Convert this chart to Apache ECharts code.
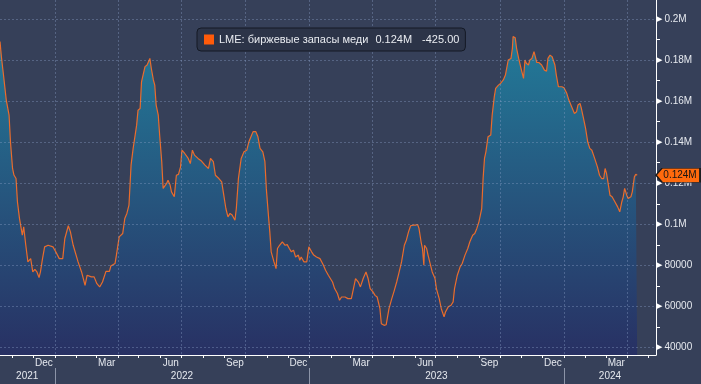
<!DOCTYPE html>
<html><head><meta charset="utf-8">
<script src="https://cdn.jsdelivr.net/npm/echarts@6/dist/echarts.min.js"></script>
<style>html,body{margin:0;padding:0;background:#364059;}#c{width:701px;height:384px;}</style>
</head><body><div id="c"></div>
<script>
const seriesName = 'LME: биржевые запасы меди';
const dates = [
'2021-10-14','2021-10-16','2021-10-19','2021-10-23','2021-10-27','2021-10-29','2021-11-01','2021-11-03','2021-11-06','2021-11-08',
'2021-11-11','2021-11-15','2021-11-17','2021-11-20','2021-11-23','2021-11-27','2021-11-30','2021-12-03','2021-12-06','2021-12-09',
'2021-12-11','2021-12-14','2021-12-17','2021-12-22','2021-12-29','2022-01-02','2022-01-07','2022-01-12','2022-01-15','2022-01-20',
'2022-01-23','2022-01-27','2022-02-03','2022-02-08','2022-02-13','2022-02-16','2022-02-22','2022-02-26','2022-03-02','2022-03-06',
'2022-03-10','2022-03-15','2022-03-20','2022-03-22','2022-03-28','2022-03-30','2022-04-03','2022-04-08','2022-04-11','2022-04-14',
'2022-04-17','2022-04-20','2022-04-23','2022-04-25','2022-04-28','2022-04-30','2022-05-03','2022-05-05','2022-05-07','2022-05-10',
'2022-05-13','2022-05-15','2022-05-17','2022-05-19','2022-05-22','2022-05-24','2022-05-26','2022-05-29','2022-05-31','2022-06-03',
'2022-06-05','2022-06-07','2022-06-10','2022-06-12','2022-06-15','2022-06-17','2022-06-21','2022-06-24','2022-06-27','2022-06-30',
'2022-07-02','2022-07-06','2022-07-11','2022-07-14','2022-07-17','2022-07-20','2022-07-25','2022-07-30','2022-08-04','2022-08-09',
'2022-08-12','2022-08-16','2022-08-19','2022-08-24','2022-08-28','2022-08-31','2022-09-03','2022-09-06','2022-09-09','2022-09-12',
'2022-09-16','2022-09-18','2022-09-21','2022-09-25','2022-09-29','2022-10-03','2022-10-06','2022-10-10','2022-10-12','2022-10-16',
'2022-10-19','2022-10-22','2022-10-26','2022-10-29','2022-10-31','2022-11-03','2022-11-05','2022-11-07','2022-11-11','2022-11-14',
'2022-11-16','2022-11-19','2022-11-23','2022-11-27','2022-11-30','2022-12-03','2022-12-06','2022-12-09','2022-12-12','2022-12-16',
'2022-12-18','2022-12-20','2022-12-24','2022-12-28','2022-12-31','2023-01-04','2023-01-07','2023-01-11','2023-01-16','2023-01-21',
'2023-01-24','2023-01-28','2023-01-30','2023-02-03','2023-02-06','2023-02-10','2023-02-13','2023-02-16','2023-02-21','2023-02-25',
'2023-03-02','2023-03-06','2023-03-08','2023-03-12','2023-03-15','2023-03-19','2023-03-23','2023-03-26','2023-03-29','2023-04-02',
'2023-04-05','2023-04-08','2023-04-12','2023-04-14','2023-04-18','2023-04-21','2023-04-25','2023-04-29','2023-05-02','2023-05-06',
'2023-05-09','2023-05-13','2023-05-17','2023-05-20','2023-05-23','2023-05-26','2023-05-30','2023-06-02','2023-06-05','2023-06-07',
'2023-06-10','2023-06-12','2023-06-14','2023-06-15','2023-06-18','2023-06-20','2023-06-23','2023-06-26','2023-06-30','2023-07-02',
'2023-07-06','2023-07-09','2023-07-13','2023-07-15','2023-07-19','2023-07-23','2023-07-26','2023-07-28','2023-08-01','2023-08-05',
'2023-08-08','2023-08-12','2023-08-16','2023-08-19','2023-08-23','2023-08-26','2023-08-29','2023-09-01','2023-09-05','2023-09-07',
'2023-09-09','2023-09-11','2023-09-14','2023-09-18','2023-09-20','2023-09-23','2023-09-25','2023-09-29','2023-10-02','2023-10-06',
'2023-10-09','2023-10-13','2023-10-17','2023-10-19','2023-10-20','2023-10-23','2023-10-25','2023-10-28','2023-11-01','2023-11-04',
'2023-11-06','2023-11-08','2023-11-11','2023-11-13','2023-11-16','2023-11-19','2023-11-23','2023-11-26','2023-11-30','2023-12-04',
'2023-12-07','2023-12-09','2023-12-12','2023-12-15','2023-12-19','2023-12-21','2023-12-24','2023-12-26','2023-12-29','2024-01-01',
'2024-01-05','2024-01-08','2024-01-12','2024-01-16','2024-01-19','2024-01-21','2024-01-24','2024-01-26','2024-01-29','2024-02-01',
'2024-02-04','2024-02-07','2024-02-10','2024-02-14','2024-02-18','2024-02-21','2024-02-24','2024-02-27','2024-02-29','2024-03-02',
'2024-03-04','2024-03-07','2024-03-10','2024-03-14','2024-03-18','2024-03-21','2024-03-24','2024-03-26','2024-03-28','2024-03-31',
'2024-04-02','2024-04-06','2024-04-08','2024-04-11','2024-04-13','2024-04-15'
];
const stocks = [
189000,181600,172700,160500,153200,140200,127200,124000,122300,111000,
102800,94700,98800,89800,81700,83300,76800,78100,76800,74100,
76800,83300,89000,89800,89000,86600,83300,83300,93100,99300,
96300,89800,81700,76800,70300,75200,74400,74400,71100,69500,
71900,77100,77100,79700,80900,85000,93900,95500,102800,105300,
109300,128800,137000,137700,148300,155600,156400,169400,168600,176800,
177600,176800,180800,176000,170300,167800,158100,153200,143500,130500,
117500,118300,119900,121500,119100,115800,113400,123900,124300,128000,
136100,134500,132100,129600,136100,133700,132100,130800,128800,127200,
132100,130500,123900,122300,120700,114200,107700,103600,105300,104500,
102000,107700,122300,132100,135300,136100,140200,143500,145100,145100,
142600,137000,135300,130500,117500,104500,96300,86600,81700,78400,
88200,89800,91500,89800,90100,88200,86600,87400,84100,85000,
82500,84100,81700,81700,89000,86600,85000,84100,83300,80100,
77600,75200,74400,71900,68700,66300,63000,64600,64600,63800,
63800,70300,73600,71900,69500,73600,76800,73600,68700,67100,
65400,64600,58900,51600,50800,51100,58900,63800,67100,71900,
76000,81700,89800,92400,96300,99300,99600,99600,99900,98000,
91500,88200,80100,89800,88200,85000,80900,76800,73600,68700,
63800,58900,54900,57300,59800,60600,62200,68700,75200,79300,
80900,85000,88200,91500,94700,95500,98000,101200,107700,122300,
132100,135300,142600,143500,153200,162100,166200,167800,168600,170300,
172700,180000,180800,185700,191400,190900,185700,180800,175100,171100,
180000,178400,177600,180000,180800,184100,178800,178800,177600,175100,
174600,180800,182400,181600,177600,172700,167000,166200,167000,166500,
163800,160500,157300,154000,154800,158100,158900,156400,151600,146700,
140200,137000,136100,132100,128000,123900,122300,122300,127200,124800,
120700,114200,113400,111000,108500,106100,111000,113400,117500,114200,
112600,113400,115800,123100,124350,123925
];
const yTickValues = [40000, 60000, 80000, 100000, 120000, 140000, 160000, 180000, 200000];
const yTickLabels = ['40000', '60000', '80000', '0.1M', '0.12M', '0.14M', '0.16M', '0.18M', '0.2M'];
const yMinorTicks = [50000, 70000, 90000, 110000, 130000, 150000, 170000, 190000];
const monthTickDates = ['2021-11-01','2021-12-01','2022-01-01','2022-02-01','2022-03-01','2022-04-01','2022-05-01','2022-06-01','2022-07-01','2022-08-01','2022-09-01','2022-10-01','2022-11-01','2022-12-01','2023-01-01','2023-02-01','2023-03-01','2023-04-01','2023-05-01','2023-06-01','2023-07-01','2023-08-01','2023-09-01','2023-10-01','2023-11-01','2023-12-01','2024-01-01','2024-02-01','2024-03-01','2024-04-01','2024-05-01'];
const quarterGridDates = ['2022-01-01','2022-04-01','2022-07-01','2022-10-01','2023-01-01','2023-04-01','2023-07-01','2023-10-01','2024-01-01','2024-04-01'];
const monthLabelDates = ['2021-12-16','2022-03-16','2022-06-16','2022-09-16','2022-12-16','2023-03-16','2023-06-16','2023-09-16','2023-12-16','2024-03-16'];
const monthLabels = ['Dec','Mar','Jun','Sep','Dec','Mar','Jun','Sep','Dec','Mar'];
const yearSepDates = ['2022-01-01','2023-01-01','2024-01-01'];
const yearLabelDates = ['2021-11-22','2022-07-02','2023-07-02','2024-03-07'];
const yearLabels = ['2021','2022','2023','2024'];
const xMin = '2021-10-14', xMax = '2024-05-12';
const yMin = 36350, yMax = 209250;

const FONT = "'Liberation Sans', Arial, sans-serif";
const ts = s => { const p = s.split('-').map(Number); return Date.UTC(p[0], p[1] - 1, p[2]); };
const mapOf = (keys, vals) => { const m = {}; keys.forEach((k, i) => { m[ts(k)] = vals[i]; }); return m; };
const monthMap = mapOf(monthLabelDates, monthLabels);
const yearMap = mapOf(yearLabelDates, yearLabels);
const yLabelMap = {}; yTickValues.forEach((v, i) => { yLabelMap[v] = yTickLabels[i]; });

const last = stocks[stocks.length - 1];
const prev = stocks[stocks.length - 2];
const lastLabel = (last / 1e6).toFixed(3) + 'M';
const changeLabel = (last - prev).toFixed(2);

const data = dates.map((d, i) => [ts(d), stocks[i]]);
const gridLine = { show: true, lineStyle: { color: 'rgba(140,160,200,0.38)', type: [2, 2], width: 1 } };
const xRange = { type: 'value', min: ts(xMin), max: ts(xMax), position: 'bottom', scale: true };

const chart = echarts.init(document.getElementById('c'), null, { renderer: 'canvas' });
chart.setOption({
  backgroundColor: '#364059',
  animation: false,
  grid: { left: 0, right: 45, top: 0, bottom: 29, containLabel: false, outerBoundsMode: 'none' },
  legend: {
    show: true, left: 197, top: 28, padding: [6, 6, 6, 7],
    backgroundColor: '#2c3448', borderColor: '#141925', borderWidth: 1, borderRadius: 4,
    icon: 'rect', itemWidth: 10, itemHeight: 10, selectedMode: false,
    data: [{ name: seriesName, icon: 'rect', itemStyle: { color: '#ff5b0a' } }],
    lineStyle: { width: 0, opacity: 0 },
    formatter: name => '{n|' + name + '}{v|' + lastLabel + '}{c|' + changeLabel + '}',
    textStyle: {
      color: '#e8ebf0', fontSize: 11, fontFamily: FONT,
      rich: {
        n: { color: '#e8ebf0', fontSize: 11, fontFamily: FONT },
        v: { color: '#e8ebf0', fontSize: 11, fontFamily: FONT, padding: [0, 0, 0, 7] },
        c: { color: '#e8ebf0', fontSize: 11, fontFamily: FONT, padding: [0, 0, 0, 10] }
      }
    }
  },
  xAxis: [
    Object.assign({}, xRange, {
      z: 3,
      axisLine: { show: true, onZero: false, lineStyle: { color: '#ffffff', width: 1 } },
      axisTick: { show: true, customValues: monthTickDates.map(ts), length: 3, lineStyle: { color: '#ffffff' } },
      axisLabel: { show: true, customValues: monthLabelDates.map(ts), formatter: v => monthMap[v] || '', color: '#e6e9ef', fontSize: 10, fontFamily: FONT, margin: 3, hideOverlap: false, showMinLabel: true, showMaxLabel: true },
      splitLine: { show: false }, minorTick: { show: false }
    }),
    Object.assign({}, xRange, {
      z: 3,
      axisLine: { show: false, onZero: false },
      axisTick: { show: false, customValues: quarterGridDates.map(ts) },
      axisLabel: { show: false },
      splitLine: gridLine
    }),
    Object.assign({}, xRange, {
      offset: 13,
      axisLine: { show: false, onZero: false },
      axisTick: { show: true, customValues: yearSepDates.map(ts), length: 16, lineStyle: { color: '#8c94a8' } },
      axisLabel: { show: true, customValues: yearLabelDates.map(ts), formatter: v => yearMap[v] || '', color: '#e6e9ef', fontSize: 10, fontFamily: FONT, margin: 3, hideOverlap: false },
      splitLine: { show: false }
    })
  ],
  yAxis: [
    {
      type: 'value', position: 'right', min: yMin, max: yMax, z: 3,
      axisLine: { show: true, onZero: false, lineStyle: { color: '#ffffff', width: 1 } },
      axisTick: { show: false, customValues: yTickValues },
      axisLabel: {
        show: true, customValues: yTickValues, margin: 1, hideOverlap: false,
        formatter: v => '{t|▶}{v|' + (yLabelMap[v] || '') + '}',
        rich: {
          t: { fontSize: 7, color: '#ffffff', fontFamily: "'DejaVu Sans'", padding: [0, 2, 0, 0] },
          v: { fontSize: 10, color: '#e6e9ef', fontFamily: FONT }
        }
      },
      splitLine: gridLine
    },
    {
      type: 'value', position: 'right', min: yMin, max: yMax,
      axisLine: { show: false, onZero: false },
      axisTick: { show: true, customValues: yMinorTicks, length: 4, lineStyle: { color: '#ffffff' } },
      axisLabel: { show: false },
      splitLine: { show: false }
    }
  ],
  series: [{
    type: 'line', name: seriesName, data: data, xAxisIndex: 0, yAxisIndex: 0,
    showSymbol: false, symbol: 'none', z: 2,
    lineStyle: { color: '#ea6c2c', width: 1.2 },
    itemStyle: { color: '#ea6c2c' },
    areaStyle: {
      color: new echarts.graphic.LinearGradient(0, 0, 0, 1, [
        { offset: 0, color: '#1994b4' },
        { offset: 0.5, color: '#1f5f8e' },
        { offset: 1, color: '#222a68' }
      ])
    },
    markPoint: {
      silent: true,
      symbol: 'path://M0,7L6,0L44,0L44,14L6,14Z',
      symbolSize: [44, 14], symbolOffset: [22, 0], symbolKeepAspect: false,
      itemStyle: { color: '#ff6a0d', borderColor: '#1a1a1a', borderWidth: 1 },
      label: { show: true, position: 'inside', formatter: lastLabel, color: '#151515', fontSize: 10, fontFamily: FONT, offset: [2, 0] },
      data: [{ coord: [ts(xMax), last], value: last }]
    }
  }]
});
</script></body></html>
